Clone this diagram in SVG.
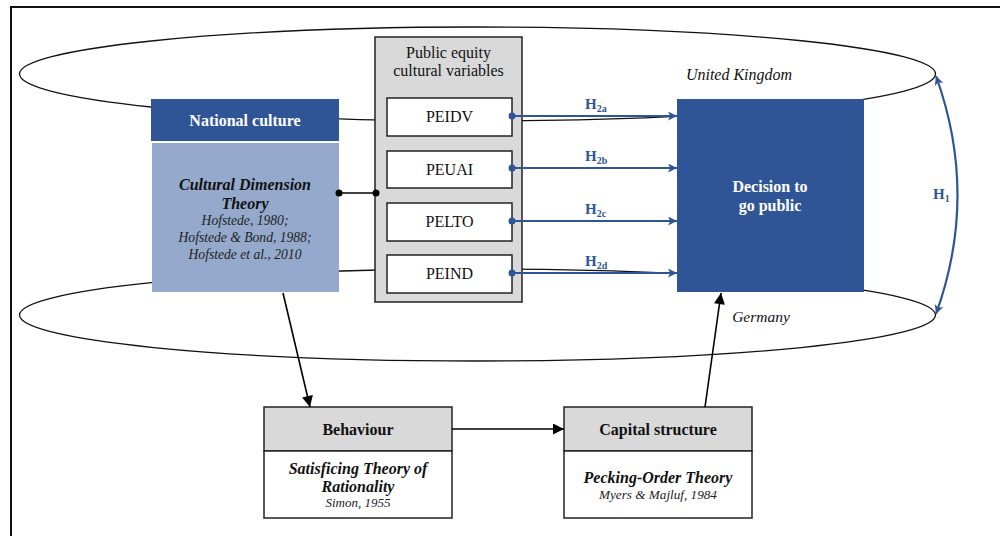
<svg xmlns="http://www.w3.org/2000/svg" width="1000" height="536" viewBox="0 0 1000 536">
<style>
text{font-family:"Liberation Serif","DejaVu Serif","Times New Roman",serif;}
.b{font-weight:bold;}
.i{font-style:italic;}
.w{fill:#ffffff;}
.k{fill:#111111;}
.blue{fill:#2F5597;}
.ell{fill:none;stroke:#111;stroke-width:1.3;}
.bl{stroke:#2F5597;stroke-width:2.2;fill:none;}
.blk{stroke:#000;stroke-width:1.6;fill:none;}
.box{stroke:#222;stroke-width:1.5;}
</style>
<defs>
<marker id="ab" viewBox="0 0 10 10" refX="10" refY="5" markerWidth="9" markerHeight="9" markerUnits="userSpaceOnUse" orient="auto-start-reverse">
<path d="M0,0 L10,5 L0,10 L2.5,5 z" fill="#2F5597"/>
</marker>
<marker id="ak" viewBox="0 0 10 10" refX="10" refY="5" markerWidth="13" markerHeight="11" markerUnits="userSpaceOnUse" orient="auto">
<path d="M0,0 L10,5 L0,10 z" fill="#000"/>
</marker>
</defs>
<rect width="1000" height="536" fill="#fff"/>
<path d="M11,536 V7 H1000" fill="none" stroke="#111" stroke-width="2"/>
<g id="ellipses">
<ellipse class="ell" cx="477.5" cy="74" rx="458" ry="47"/>
<ellipse class="ell" cx="477.5" cy="315" rx="458" ry="46"/>
</g>
<text class="i k" x="739" y="80" font-size="16" text-anchor="middle">United Kingdom</text>
<text class="i k" x="761" y="322" font-size="15.5" text-anchor="middle">Germany</text>
<g id="national-culture">
<rect x="151" y="99" width="188" height="42" fill="#2F5597"/>
<text class="b w" x="245" y="126" font-size="16" text-anchor="middle">National culture</text>
<rect x="152" y="143" width="187" height="149" fill="#94A9CC"/>
<text class="b i k" x="245" y="190" font-size="16" text-anchor="middle">Cultural Dimension</text>
<text class="b i k" x="245" y="209" font-size="16" text-anchor="middle">Theory</text>
<text class="i" fill="#222" x="245" y="225" font-size="13.6" text-anchor="middle">Hofstede, 1980;</text>
<text class="i" fill="#222" x="245" y="242" font-size="13.6" text-anchor="middle">Hofstede &amp; Bond, 1988;</text>
<text class="i" fill="#222" x="245" y="259" font-size="13.6" text-anchor="middle">Hofstede et al., 2010</text>
</g>
<g id="public-equity">
<rect class="box" x="375" y="37" width="147" height="265" fill="#D9D9D9"/>
<text class="k" x="448.5" y="58" font-size="16" text-anchor="middle">Public equity</text>
<text class="k" x="448.5" y="76" font-size="16" text-anchor="middle">cultural variables</text>
</g>
<g id="peidv"><rect class="box" x="387" y="98" width="125" height="38" fill="#fff"/><text class="k" x="449.5" y="122" font-size="16" text-anchor="middle">PEIDV</text></g>
<g id="peuai"><rect class="box" x="387" y="151" width="125" height="37" fill="#fff"/><text class="k" x="449.5" y="175" font-size="16" text-anchor="middle">PEUAI</text></g>
<g id="pelto"><rect class="box" x="387" y="203" width="125" height="38" fill="#fff"/><text class="k" x="449.5" y="227" font-size="16" text-anchor="middle">PELTO</text></g>
<g id="peind"><rect class="box" x="387" y="255" width="125" height="38" fill="#fff"/><text class="k" x="449.5" y="279" font-size="16" text-anchor="middle">PEIND</text></g>
<g id="decision">
<rect x="677" y="99" width="187" height="193" fill="#2F5597"/>
<text class="b w" x="770" y="192" font-size="16" text-anchor="middle">Decision to</text>
<text class="b w" x="770" y="211" font-size="16" text-anchor="middle">go public</text>
</g>
<g id="behaviour">
<rect class="box" x="264" y="407" width="188" height="44" fill="#D9D9D9"/>
<rect class="box" x="264" y="451" width="188" height="67" fill="#fff"/>
<text class="b k" x="358" y="435" font-size="16" text-anchor="middle">Behaviour</text>
<text class="b i k" x="358" y="474" font-size="16" text-anchor="middle">Satisficing Theory of</text>
<text class="b i k" x="358" y="492" font-size="16" text-anchor="middle">Rationality</text>
<text class="i" fill="#222" x="358" y="507" font-size="13" text-anchor="middle">Simon, 1955</text>
</g>
<g id="capital-structure">
<rect class="box" x="564" y="407" width="188" height="44" fill="#D9D9D9"/>
<rect class="box" x="564" y="451" width="188" height="67" fill="#fff"/>
<text class="b k" x="658" y="435" font-size="16" text-anchor="middle">Capital structure</text>
<text class="b i k" x="658" y="483" font-size="16" text-anchor="middle">Pecking-Order Theory</text>
<text class="i" fill="#222" x="658" y="499" font-size="13.2" text-anchor="middle">Myers &amp; Majluf, 1984</text>
</g>
<g id="connectors">
<line class="blk" x1="339" y1="193" x2="376" y2="193"/>
<circle cx="339" cy="193" r="3.5" fill="#000"/>
<circle cx="376" cy="193" r="3.5" fill="#000"/>
<line class="bl" x1="512" y1="116" x2="677" y2="116" marker-end="url(#ab)"/>
<line class="bl" x1="512" y1="168" x2="677" y2="168" marker-end="url(#ab)"/>
<line class="bl" x1="512" y1="221" x2="677" y2="221" marker-end="url(#ab)"/>
<line class="bl" x1="512" y1="273" x2="677" y2="273" marker-end="url(#ab)"/>
<circle cx="512" cy="116" r="3.5" fill="#2F5597"/>
<circle cx="512" cy="168" r="3.5" fill="#2F5597"/>
<circle cx="512" cy="221" r="3.5" fill="#2F5597"/>
<circle cx="512" cy="273" r="3.5" fill="#2F5597"/>
<path class="bl" d="M936,76 Q979,195 936,314" marker-start="url(#ab)" marker-end="url(#ab)"/>
<line class="blk" x1="283" y1="293" x2="310" y2="407" marker-end="url(#ak)"/>
<line class="blk" x1="452" y1="429" x2="564" y2="429" marker-end="url(#ak)"/>
<line class="blk" x1="705" y1="407" x2="721" y2="293" marker-end="url(#ak)"/>
</g>
<g id="labels" class="blue">
<text class="b blue" x="585" y="109" font-size="15">H<tspan font-size="10" dy="3">2a</tspan></text>
<text class="b blue" x="585" y="161" font-size="15">H<tspan font-size="10" dy="3">2b</tspan></text>
<text class="b blue" x="585" y="214" font-size="15">H<tspan font-size="10" dy="3">2c</tspan></text>
<text class="b blue" x="585" y="266" font-size="15">H<tspan font-size="10" dy="3">2d</tspan></text>
<text class="b blue" x="933" y="199" font-size="15">H<tspan font-size="10" dy="3">1</tspan></text>
</g>
</svg>
